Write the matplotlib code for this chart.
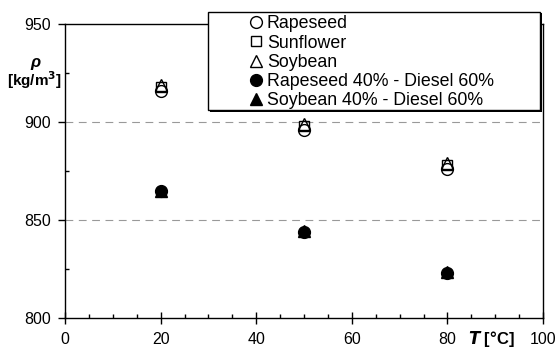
import numpy as np
import matplotlib.pyplot as plt
from matplotlib.ticker import MultipleLocator
from matplotlib.patches import Rectangle

plt.rcParams['font.family'] = ['Liberation Sans', 'DejaVu Sans']

# Temperature [°C]
temps = [20, 50, 80]

# Density [kg/m3]
rapeseed = [916, 896, 876]
sunflower = [918, 898, 878]
soybean = [919, 899, 879]
rape_diesel = [865, 844, 823]
soy_diesel = [865, 844.5, 823.5]

labels = ['Rapeseed', 'Sunflower', 'Soybean',
          'Rapeseed 40% - Diesel 60%', 'Soybean 40% - Diesel 60%']

W, H = 558, 348
fig = plt.figure(figsize=(W / 100, H / 100), dpi=100)
ax = fig.add_axes([65 / W, 1 - 318 / H, (543 - 65) / W, (318 - 24) / H])

ms = 8.5
ax.plot(temps, rapeseed, 'o', ms=ms, mfc='none', mec='black', mew=1.0, label=labels[0])
ax.plot(temps, sunflower, 's', ms=ms - 1, mfc='none', mec='black', mew=1.0, label=labels[1])
ax.plot(temps, soybean, '^', ms=ms - 0.5, mfc='none', mec='black', mew=1.0, label=labels[2])
ax.plot(temps, rape_diesel, 'o', ms=ms, mfc='black', mec='black', label=labels[3])
ax.plot(temps, soy_diesel, '^', ms=ms - 0.5, mfc='black', mec='black', label=labels[4])

ax.set_xlim(0, 100)
ax.set_ylim(800, 950)
ax.xaxis.set_major_locator(MultipleLocator(20))
ax.xaxis.set_minor_locator(MultipleLocator(5))
ax.yaxis.set_major_locator(MultipleLocator(50))
ax.yaxis.set_minor_locator(MultipleLocator(25))
ax.tick_params(axis='x', which='major', direction='inout', length=8, width=1,
               labelsize=11.5, pad=6)
ax.tick_params(axis='x', which='minor', direction='in', length=3, width=1)
ax.tick_params(axis='y', which='major', direction='out', length=5, width=1,
               labelsize=11.5, pad=5)
ax.tick_params(axis='y', which='minor', direction='in', length=3, width=1)

for s in ax.spines.values():
    s.set_linewidth(1.0)

# dashed grid lines at interior major ticks
for yv in [850, 900]:
    ax.axhline(yv, color='#999999', lw=0.8, ls=(0, (7, 5)), zorder=0)

# legend box with thin black drop shadow
bx0, by0, bx1, by1 = 208, 12, 540, 110
sh = 1.5
fig.add_artist(Rectangle(((bx0 + sh) / W, 1 - (by1 + sh) / H), (bx1 - bx0) / W,
                         (by1 - by0) / H, transform=fig.transFigure,
                         facecolor='black', edgecolor='none', zorder=3))
fig.add_artist(Rectangle((bx0 / W, 1 - by1 / H), (bx1 - bx0) / W, (by1 - by0) / H,
                         transform=fig.transFigure, facecolor='white',
                         edgecolor='black', lw=1.0, zorder=4))

handles, labs = ax.get_legend_handles_labels()
leg = fig.legend(handles, labs, loc='upper left', bbox_to_anchor=(248.5 / W, 1 - 15.5 / H),
                 fontsize=12.8, frameon=False, handlelength=0.84, handletextpad=0.2,
                 borderpad=0, labelspacing=0.12, borderaxespad=0)
leg.set_zorder(5)

fig.text(35 / W, 1 - 63 / H, 'ρ', fontsize=12, fontweight='bold', style='italic',
         ha='center', va='center')
fig.text(34 / W, 1 - 80 / H, '[kg/m$^\\mathbf{3}$]', fontsize=11, fontweight='bold',
         ha='center', va='center')
fig.text(491 / W, 1 - 339 / H, '$\\boldsymbol{T}$ [°C]', fontsize=12, fontweight='bold',
         ha='center', va='center')

fig.savefig('out.png', dpi=100)
